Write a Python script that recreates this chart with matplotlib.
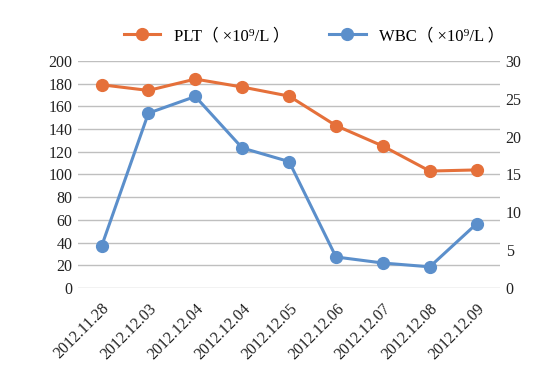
import matplotlib
matplotlib.use("Agg")
import matplotlib.pyplot as plt

plt.rcParams['font.family'] = ['Liberation Serif', 'Noto Sans CJK SC', 'DejaVu Sans']

dates = ["2012.11.28", "2012.12.03", "2012.12.04", "2012.12.04", "2012.12.05",
         "2012.12.06", "2012.12.07", "2012.12.08", "2012.12.09"]
plt_vals = [179, 174, 184, 177, 169, 143, 125, 103, 104]
wbc_vals = [5.5, 23.1, 25.3, 18.5, 16.7, 4.1, 3.3, 2.8, 8.5]

orange = "#E5703A"
blue = "#5B8FCB"
grid_c = "#BFBFBF"

fig = plt.figure(figsize=(5.46, 3.76), dpi=100)
ax = fig.add_axes([0.143, 0.234, 0.773, 0.604])
ax2 = ax.twinx()

x = range(len(dates))
l1, = ax.plot(x, plt_vals, color=orange, lw=2.2, marker='o', ms=8.5,
              label="PLT（ ×10⁹/L ）")
l2, = ax2.plot(x, wbc_vals, color=blue, lw=2.2, marker='o', ms=8.5,
               label="WBC（ ×10⁹/L ）")

ax.set_ylim(0, 200)
ax.set_yticks(range(0, 201, 20))
ax2.set_ylim(0, 30)
ax2.set_yticks(range(0, 31, 5))
ax.set_xlim(-0.5, len(dates) - 0.5)
ax.set_xticks(list(x))
ax.set_xticklabels(dates, rotation=45, ha='right', rotation_mode='anchor')

ax.yaxis.grid(True, color=grid_c, lw=1)
ax.set_axisbelow(True)
for a in (ax, ax2):
    for s in a.spines.values():
        s.set_visible(False)
    a.tick_params(length=0, labelsize=11.5, colors="#222222", pad=4)
ax.tick_params(axis='x', pad=9)

fig.legend(handles=[l1, l2], loc='upper center', bbox_to_anchor=(0.575, 0.965),
           ncol=2, frameon=False, fontsize=12, handlelength=2.2, columnspacing=2.4)

fig.savefig("out.png", dpi=100)
